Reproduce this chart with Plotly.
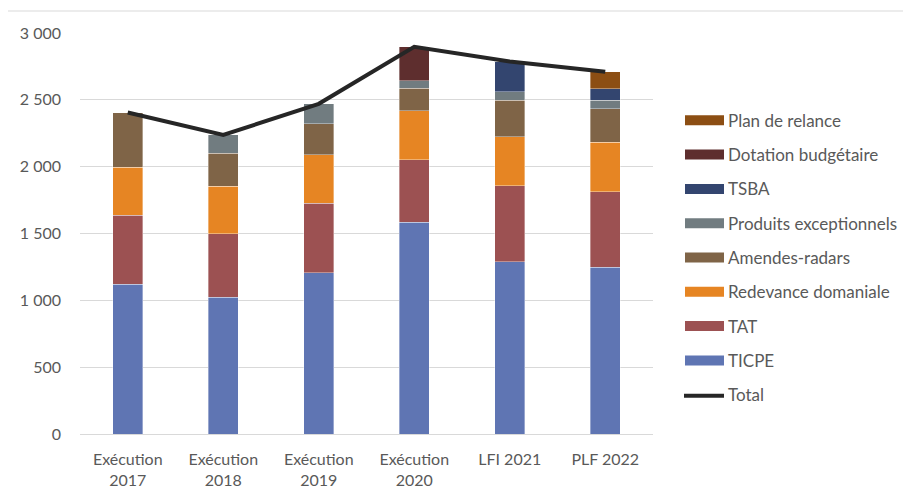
import plotly.graph_objects as go

categories = ["Exécution<br>2017", "Exécution<br>2018", "Exécution<br>2019",
              "Exécution<br>2020", "LFI 2021", "PLF 2022"]

ticpe = [1120, 1022, 1205, 1585, 1287, 1247]
tat = [515, 478, 523, 467, 570, 565]
redevance = [362, 352, 362, 368, 365, 370]
amendes = [408, 248, 232, 165, 275, 253]
produits = [0, 137, 148, 57, 63, 62]
tsba = [0, 0, 0, 0, 227, 85]
dotation = [0, 0, 0, 255, 0, 0]
relance = [0, 0, 0, 0, 0, 128]

series_names = ["TICPE", "TAT", "Redevance domaniale", "Amendes-radars",
                "Produits exceptionnels", "TSBA", "Dotation budgétaire", "Plan de relance"]
series_values = [ticpe, tat, redevance, amendes, produits, tsba, dotation, relance]
series_colors = ["#5F75B3", "#9C5152", "#E68523", "#7F6447",
                 "#717C80", "#33456F", "#5E2E2E", "#8C4E13"]

total = [sum(v[i] for v in series_values) for i in range(len(categories))]

y_ticks = [0, 500, 1000, 1500, 2000, 2500, 3000]

FONT = "Lato, 'Open Sans', sans-serif"
TXT = "#595959"

fig = go.Figure()
for name, vals, col in zip(series_names, series_values, series_colors):
    fig.add_trace(go.Bar(x=categories, y=vals, name=name, marker_color=col,
                         marker_line=dict(color="rgba(255,255,255,0.6)", width=0.6),
                         showlegend=False))
fig.add_trace(go.Scatter(x=categories, y=total, name="Total", mode="lines",
                         line=dict(color="#262626", width=4), showlegend=False))

# page offset of 8px (body margin) is compensated in the margins
OFF = 8
L0, W = 80, 573
B0, H = 433, 401
def px(x):
    return (x - L0) / W
def py(y):
    return (B0 - y) / H

legend_items = list(zip(series_names, series_colors))[::-1] + [("Total", "#262626")]
shapes = []
annotations = []
y0 = 119.3
step = 34.3
for i, (name, col) in enumerate(legend_items):
    yc = y0 + i * step
    if name == "Total":
        shapes.append(dict(type="line", xref="paper", yref="paper",
                           x0=px(684), x1=px(724), y0=py(yc + 1), y1=py(yc + 1),
                           line=dict(color=col, width=4)))
    else:
        shapes.append(dict(type="rect", xref="paper", yref="paper",
                           x0=px(685), x1=px(724), y0=py(yc - 5), y1=py(yc + 5),
                           fillcolor=col, line=dict(width=0)))
    annotations.append(dict(x=px(726), y=py(yc), xref="paper", yref="paper",
                            text=name, showarrow=False, xanchor="left", yanchor="middle",
                            font=dict(family=FONT, size=17, color=TXT)))

# outer frame lines (left and top)
shapes.append(dict(type="line", xref="paper", yref="paper",
                   x0=px(7), x1=px(7), y0=py(10), y1=py(520),
                   line=dict(color="#D9D9D9", width=1)))
shapes.append(dict(type="line", xref="paper", yref="paper",
                   x0=px(7), x1=px(930), y0=py(10), y1=py(10),
                   line=dict(color="#D9D9D9", width=1)))

fig.update_layout(
    width=911, height=499,
    margin=dict(l=L0 - OFF, r=911 - (L0 - OFF) - W, t=33 - OFF, b=499 - (33 - OFF) - H),
    barmode="stack", bargap=0.686,
    plot_bgcolor="white", paper_bgcolor="white",
    separators=", ",
    font=dict(family=FONT, size=16, color=TXT),
    shapes=shapes, annotations=annotations,
    xaxis=dict(showgrid=False, showline=False, ticks="", ticklabelstandoff=14,
               tickfont=dict(family=FONT, size=16, color=TXT)),
    yaxis=dict(range=[0, 3000], tickvals=y_ticks, tickformat=",d",
               showgrid=True, gridcolor="#D9D9D9", gridwidth=1.3,
               zeroline=True, zerolinecolor="#D9D9D9", zerolinewidth=1.3,
               showline=False, ticklabelstandoff=18,
               tickfont=dict(family=FONT, size=16, color=TXT)),
)

fig.write_html("out.html")
